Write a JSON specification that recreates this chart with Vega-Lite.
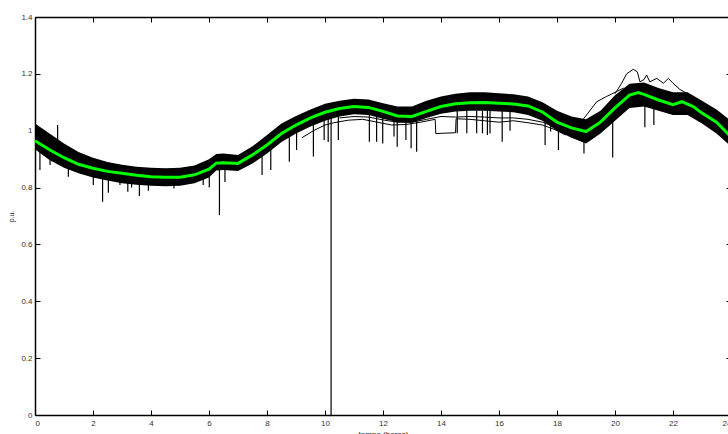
{
  "$schema": "https://vega.github.io/schema/vega-lite/v6.json",
  "width": 693,
  "height": 398,
  "autosize": {"type": "none"},
  "padding": {"left": 35, "top": 17, "right": 0, "bottom": 19},
  "background": "white",
  "config": {"view": {"stroke": null}, "font": "Liberation Sans"},
  "datasets": {
    "band": [
      {"h": 0, "lo": 0.935, "hi": 1.025},
      {"h": 0.5, "lo": 0.897, "hi": 0.99},
      {"h": 1, "lo": 0.87, "hi": 0.955},
      {"h": 1.5, "lo": 0.85, "hi": 0.925},
      {"h": 2, "lo": 0.835, "hi": 0.905},
      {"h": 2.5, "lo": 0.825, "hi": 0.89},
      {"h": 3, "lo": 0.815, "hi": 0.88},
      {"h": 3.5, "lo": 0.81, "hi": 0.873},
      {"h": 4, "lo": 0.806, "hi": 0.87},
      {"h": 4.5, "lo": 0.805, "hi": 0.868},
      {"h": 5, "lo": 0.806, "hi": 0.87},
      {"h": 5.5, "lo": 0.815, "hi": 0.878},
      {"h": 6, "lo": 0.835, "hi": 0.9},
      {"h": 6.25, "lo": 0.86, "hi": 0.918},
      {"h": 6.5, "lo": 0.862, "hi": 0.92},
      {"h": 7, "lo": 0.858, "hi": 0.915},
      {"h": 7.5, "lo": 0.885, "hi": 0.945},
      {"h": 8, "lo": 0.92, "hi": 0.985},
      {"h": 8.5, "lo": 0.96, "hi": 1.025},
      {"h": 9, "lo": 0.99, "hi": 1.052},
      {"h": 9.5, "lo": 1.015, "hi": 1.075},
      {"h": 10, "lo": 1.035, "hi": 1.095},
      {"h": 10.5, "lo": 1.05, "hi": 1.105},
      {"h": 11, "lo": 1.058, "hi": 1.112},
      {"h": 11.5, "lo": 1.055, "hi": 1.11},
      {"h": 12, "lo": 1.042, "hi": 1.097},
      {"h": 12.5, "lo": 1.03, "hi": 1.085},
      {"h": 13, "lo": 1.028, "hi": 1.085},
      {"h": 13.5, "lo": 1.045, "hi": 1.105},
      {"h": 14, "lo": 1.06, "hi": 1.12},
      {"h": 14.5, "lo": 1.068, "hi": 1.13},
      {"h": 15, "lo": 1.07, "hi": 1.135},
      {"h": 15.5, "lo": 1.07, "hi": 1.135},
      {"h": 16, "lo": 1.068, "hi": 1.132},
      {"h": 16.5, "lo": 1.065, "hi": 1.128},
      {"h": 17, "lo": 1.055, "hi": 1.12},
      {"h": 17.5, "lo": 1.035, "hi": 1.1},
      {"h": 18, "lo": 1.0, "hi": 1.07},
      {"h": 18.5, "lo": 0.975, "hi": 1.05},
      {"h": 19, "lo": 0.955, "hi": 1.04},
      {"h": 19.5, "lo": 0.99, "hi": 1.07},
      {"h": 20, "lo": 1.035, "hi": 1.125},
      {"h": 20.5, "lo": 1.08, "hi": 1.165},
      {"h": 21, "lo": 1.085, "hi": 1.17},
      {"h": 21.5, "lo": 1.07, "hi": 1.15},
      {"h": 22, "lo": 1.055, "hi": 1.135},
      {"h": 22.5, "lo": 1.055, "hi": 1.135},
      {"h": 23, "lo": 1.025, "hi": 1.105},
      {"h": 23.5, "lo": 0.99, "hi": 1.075},
      {"h": 24, "lo": 0.945, "hi": 1.035}
    ],
    "mean": [
      {"h": 0, "v": 0.965}, {"h": 0.5, "v": 0.933}, {"h": 1, "v": 0.905}, {"h": 1.5, "v": 0.882},
      {"h": 2, "v": 0.868}, {"h": 2.5, "v": 0.857}, {"h": 3, "v": 0.85}, {"h": 3.5, "v": 0.843},
      {"h": 4, "v": 0.838}, {"h": 4.5, "v": 0.836}, {"h": 5, "v": 0.836}, {"h": 5.5, "v": 0.845},
      {"h": 6, "v": 0.865}, {"h": 6.25, "v": 0.886}, {"h": 6.5, "v": 0.887}, {"h": 7, "v": 0.885},
      {"h": 7.5, "v": 0.915}, {"h": 8, "v": 0.95}, {"h": 8.5, "v": 0.99}, {"h": 9, "v": 1.02},
      {"h": 9.5, "v": 1.045}, {"h": 10, "v": 1.065}, {"h": 10.5, "v": 1.078}, {"h": 11, "v": 1.085},
      {"h": 11.5, "v": 1.082}, {"h": 12, "v": 1.068}, {"h": 12.5, "v": 1.052}, {"h": 13, "v": 1.05},
      {"h": 13.5, "v": 1.068}, {"h": 14, "v": 1.085}, {"h": 14.5, "v": 1.095}, {"h": 15, "v": 1.098},
      {"h": 15.5, "v": 1.099}, {"h": 16, "v": 1.097}, {"h": 16.5, "v": 1.094}, {"h": 17, "v": 1.087},
      {"h": 17.5, "v": 1.066}, {"h": 18, "v": 1.03}, {"h": 18.5, "v": 1.01}, {"h": 19, "v": 0.997},
      {"h": 19.5, "v": 1.03}, {"h": 20, "v": 1.08}, {"h": 20.5, "v": 1.125}, {"h": 20.8, "v": 1.134},
      {"h": 21, "v": 1.128}, {"h": 21.5, "v": 1.108}, {"h": 22, "v": 1.092}, {"h": 22.3, "v": 1.102},
      {"h": 22.7, "v": 1.085}, {"h": 23, "v": 1.062}, {"h": 23.5, "v": 1.03}, {"h": 24, "v": 0.978}
    ],
    "lines": [
      {"id": "A", "h": 20.0, "v": 1.13}, {"id": "A", "h": 20.23, "v": 1.167}, {"id": "A", "h": 20.4, "v": 1.2},
      {"id": "A", "h": 20.63, "v": 1.216}, {"id": "A", "h": 20.77, "v": 1.207}, {"id": "A", "h": 20.86, "v": 1.172},
      {"id": "A", "h": 21.0, "v": 1.18}, {"id": "A", "h": 21.09, "v": 1.196}, {"id": "A", "h": 21.2, "v": 1.172},
      {"id": "A", "h": 21.44, "v": 1.184}, {"id": "A", "h": 21.67, "v": 1.167}, {"id": "A", "h": 21.84, "v": 1.184},
      {"id": "A", "h": 22.0, "v": 1.167}, {"id": "A", "h": 22.24, "v": 1.145}, {"id": "A", "h": 22.5, "v": 1.13},
      {"id": "D", "h": 18.9, "v": 1.04}, {"id": "D", "h": 19.07, "v": 1.062}, {"id": "D", "h": 19.37, "v": 1.102},
      {"id": "D", "h": 19.7, "v": 1.12}, {"id": "D", "h": 20.0, "v": 1.135}, {"id": "D", "h": 20.3, "v": 1.15},
      {"id": "B", "h": 9.2, "v": 0.975}, {"id": "B", "h": 9.6, "v": 1.0}, {"id": "B", "h": 10.0, "v": 1.02},
      {"id": "B", "h": 10.3, "v": 1.028}, {"id": "B", "h": 10.8, "v": 1.037}, {"id": "B", "h": 11.3, "v": 1.04},
      {"id": "B", "h": 11.8, "v": 1.03}, {"id": "B", "h": 12.3, "v": 1.02}, {"id": "B", "h": 12.8, "v": 1.022},
      {"id": "B", "h": 13.3, "v": 1.03}, {"id": "B", "h": 13.8, "v": 1.04}, {"id": "B", "h": 13.82, "v": 0.99},
      {"id": "B", "h": 14.5, "v": 0.993}, {"id": "B", "h": 14.52, "v": 1.042}, {"id": "B", "h": 15.0, "v": 1.04},
      {"id": "B", "h": 15.5, "v": 1.035}, {"id": "B", "h": 16.0, "v": 1.03}, {"id": "B", "h": 16.5, "v": 1.035},
      {"id": "B", "h": 17.0, "v": 1.028}, {"id": "B", "h": 17.5, "v": 1.02}, {"id": "B", "h": 17.9, "v": 1.005},
      {"id": "B", "h": 18.3, "v": 0.985},
      {"id": "C", "h": 10.5, "v": 1.045}, {"id": "C", "h": 11.0, "v": 1.05}, {"id": "C", "h": 11.5, "v": 1.048},
      {"id": "C", "h": 12.0, "v": 1.038}, {"id": "C", "h": 12.5, "v": 1.03}, {"id": "C", "h": 13.0, "v": 1.03},
      {"id": "C", "h": 13.5, "v": 1.04}, {"id": "C", "h": 14.0, "v": 1.05}, {"id": "C", "h": 14.5, "v": 1.048},
      {"id": "C", "h": 15.0, "v": 1.05}, {"id": "C", "h": 15.5, "v": 1.048}, {"id": "C", "h": 16.0, "v": 1.045},
      {"id": "C", "h": 16.5, "v": 1.045}, {"id": "C", "h": 17.0, "v": 1.04}, {"id": "C", "h": 17.5, "v": 1.03},
      {"id": "C", "h": 18.0, "v": 1.01}
    ],
    "spikes": [
      {"h": 0.17, "top": 0.95, "bottom": 0.862}, {"h": 0.52, "top": 0.92, "bottom": 0.879},
      {"h": 0.78, "top": 1.02, "bottom": 0.91}, {"h": 1.15, "top": 0.88, "bottom": 0.838},
      {"h": 2.01, "top": 0.85, "bottom": 0.809}, {"h": 2.33, "top": 0.84, "bottom": 0.75},
      {"h": 2.53, "top": 0.84, "bottom": 0.782}, {"h": 2.93, "top": 0.83, "bottom": 0.809},
      {"h": 3.2, "top": 0.83, "bottom": 0.785}, {"h": 3.33, "top": 0.83, "bottom": 0.8},
      {"h": 3.6, "top": 0.82, "bottom": 0.77}, {"h": 3.91, "top": 0.82, "bottom": 0.789},
      {"h": 4.79, "top": 0.82, "bottom": 0.797}, {"h": 5.8, "top": 0.84, "bottom": 0.809},
      {"h": 6.01, "top": 0.85, "bottom": 0.8}, {"h": 6.36, "top": 0.87, "bottom": 0.703},
      {"h": 6.55, "top": 0.87, "bottom": 0.82}, {"h": 7.83, "top": 0.93, "bottom": 0.844},
      {"h": 8.13, "top": 0.95, "bottom": 0.862}, {"h": 8.77, "top": 1.0, "bottom": 0.891},
      {"h": 9.02, "top": 1.01, "bottom": 0.932}, {"h": 9.6, "top": 1.04, "bottom": 0.909},
      {"h": 9.97, "top": 1.05, "bottom": 0.967}, {"h": 10.11, "top": 1.06, "bottom": 0.96},
      {"h": 10.21, "top": 1.07, "bottom": 0.0}, {"h": 10.46, "top": 1.07, "bottom": 0.967},
      {"h": 11.53, "top": 1.07, "bottom": 0.961}, {"h": 11.78, "top": 1.07, "bottom": 0.961},
      {"h": 11.99, "top": 1.06, "bottom": 0.955}, {"h": 12.38, "top": 1.05, "bottom": 0.98},
      {"h": 12.49, "top": 1.04, "bottom": 0.944}, {"h": 12.79, "top": 1.04, "bottom": 0.967},
      {"h": 12.97, "top": 1.04, "bottom": 0.938}, {"h": 13.16, "top": 1.04, "bottom": 0.926},
      {"h": 14.56, "top": 1.07, "bottom": 0.991}, {"h": 14.89, "top": 1.07, "bottom": 0.991},
      {"h": 15.23, "top": 1.07, "bottom": 0.991}, {"h": 15.43, "top": 1.07, "bottom": 0.991},
      {"h": 15.6, "top": 1.07, "bottom": 0.985}, {"h": 15.69, "top": 1.07, "bottom": 0.99},
      {"h": 16.11, "top": 1.07, "bottom": 0.961}, {"h": 16.38, "top": 1.07, "bottom": 1.0},
      {"h": 17.59, "top": 1.05, "bottom": 0.95}, {"h": 17.78, "top": 1.04, "bottom": 0.997},
      {"h": 18.05, "top": 1.01, "bottom": 0.932}, {"h": 18.93, "top": 0.98, "bottom": 0.92},
      {"h": 19.92, "top": 1.04, "bottom": 0.906}, {"h": 21.03, "top": 1.09, "bottom": 1.012},
      {"h": 21.34, "top": 1.08, "bottom": 1.02}
    ]
  },
  "layer": [
    {
      "data": {"name": "band"},
      "mark": {"type": "area", "color": "black", "opacity": 1, "clip": false},
      "encoding": {
        "x": {"field": "h", "type": "quantitative",
          "scale": {"domain": [0, 24], "range": [0, 696], "nice": false, "zero": false},
          "axis": {"orient": "bottom", "values": [0,2,4,6,8,10,12,14,16,18,20,22,24], "grid": false,
            "tickSize": -5, "tickColor": "black", "domainColor": "black", "domainWidth": 1.5,
            "labelFontSize": 8, "labelColor": "#333333", "labelPadding": 9, "labelFont": "Liberation Sans",
            "title": "tempo (horas)", "titleFontSize": 8, "titleFontWeight": "normal", "titleColor": "#222222",
            "titlePadding": 3, "titleFont": "Liberation Sans"}},
        "y": {"field": "lo", "type": "quantitative",
          "scale": {"domain": [0, 1.4], "nice": false},
          "axis": {"orient": "left", "values": [0,0.2,0.4,0.6,0.8,1,1.2,1.4], "format": "~g", "grid": false,
            "tickSize": -5, "tickColor": "black", "domainColor": "black", "domainWidth": 1.5,
            "labelFontSize": 8, "labelColor": "#333333", "labelPadding": 8, "labelFont": "Liberation Sans",
            "title": "p.u.", "titleFontSize": 7, "titleFontWeight": "normal", "titleColor": "#222222",
            "titlePadding": 6, "titleFont": "Liberation Sans"}},
        "y2": {"field": "hi"}
      }
    },
    {
      "data": {"name": "lines"},
      "mark": {"type": "line", "color": "black", "strokeWidth": 1},
      "encoding": {
        "x": {"field": "h", "type": "quantitative", "axis": null},
        "y": {"field": "v", "type": "quantitative", "axis": null},
        "detail": {"field": "id"}
      }
    },
    {
      "data": {"name": "spikes"},
      "mark": {"type": "rule", "color": "black", "strokeWidth": 1.2},
      "encoding": {
        "x": {"field": "h", "type": "quantitative", "axis": null},
        "y": {"field": "top", "type": "quantitative", "axis": null},
        "y2": {"field": "bottom"}
      }
    },
    {
      "data": {"name": "mean"},
      "mark": {"type": "line", "color": "#00ff00", "strokeWidth": 3},
      "encoding": {
        "x": {"field": "h", "type": "quantitative",
          "axis": {"orient": "top", "values": [0,2,4,6,8,10,12,14,16,18,20,22,24], "labels": false, "grid": false,
            "tickSize": -5, "tickColor": "black", "domainColor": "black", "domainWidth": 1.5, "title": null}},
        "y": {"field": "v", "type": "quantitative",
          "axis": {"orient": "right", "offset": 3, "values": [0,0.2,0.4,0.6,0.8,1,1.2,1.4], "labels": false, "grid": false,
            "tickSize": -5, "tickColor": "black", "domainColor": "black", "domainWidth": 1.5, "title": null}}
      }
    }
  ],
  "resolve": {"axis": {"x": "independent", "y": "independent"}}
}
